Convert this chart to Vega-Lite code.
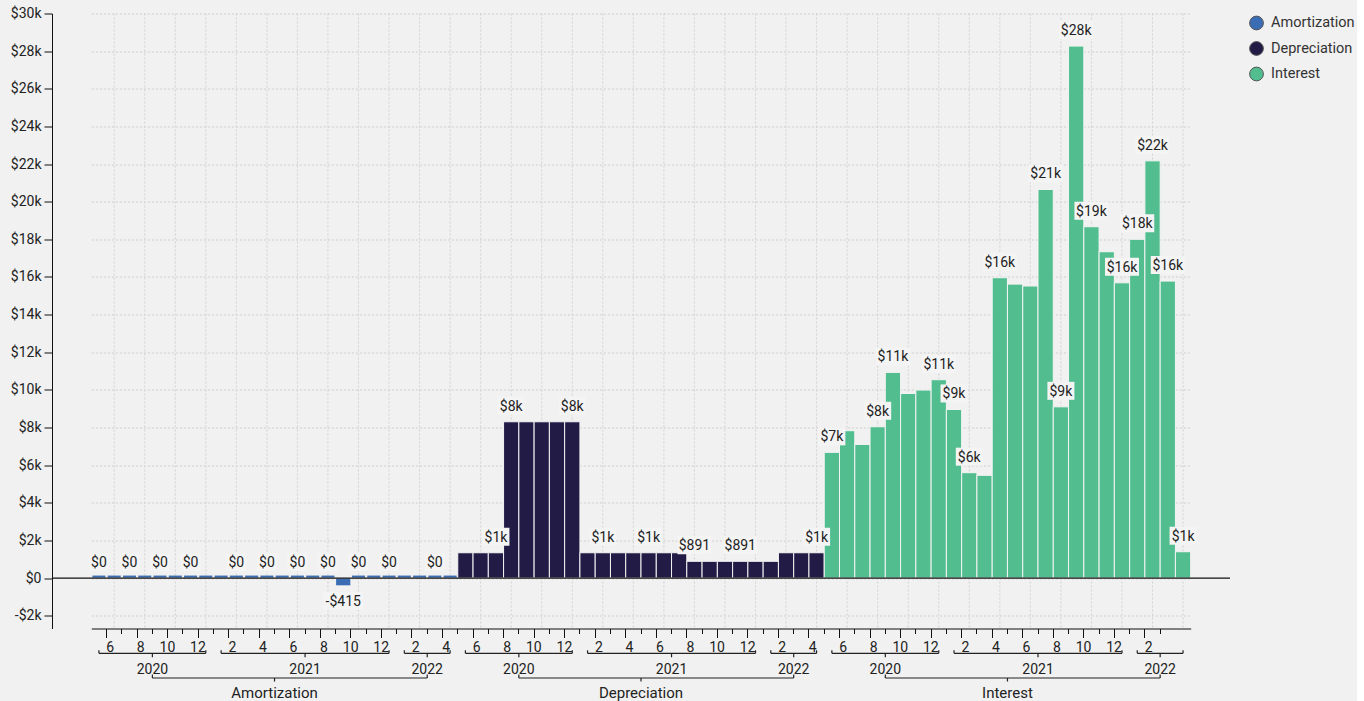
{
  "$schema": "https://vega.github.io/schema/vega-lite/v6.json",
  "background": "#f1f1f1",
  "padding": {"left": 10, "top": 6.5, "right": 0, "bottom": 0},
  "bounds": "flush",
  "spacing": 34.75,
  "config": {
    "font": "Roboto",
    "view": {"stroke": null},
    "axis": {"labelColor": "#222", "labelFontSize": 14, "domainColor": "#111", "tickColor": "#111"}
  },
  "datasets": {
    "costs": [
      {"group": "Amortization", "month": "2020-05", "amount": 0},
      {"group": "Amortization", "month": "2020-06", "amount": 0},
      {"group": "Amortization", "month": "2020-07", "amount": 0},
      {"group": "Amortization", "month": "2020-08", "amount": 0},
      {"group": "Amortization", "month": "2020-09", "amount": 0},
      {"group": "Amortization", "month": "2020-10", "amount": 0},
      {"group": "Amortization", "month": "2020-11", "amount": 0},
      {"group": "Amortization", "month": "2020-12", "amount": 0},
      {"group": "Amortization", "month": "2021-01", "amount": 0},
      {"group": "Amortization", "month": "2021-02", "amount": 0},
      {"group": "Amortization", "month": "2021-03", "amount": 0},
      {"group": "Amortization", "month": "2021-04", "amount": 0},
      {"group": "Amortization", "month": "2021-05", "amount": 0},
      {"group": "Amortization", "month": "2021-06", "amount": 0},
      {"group": "Amortization", "month": "2021-07", "amount": 0},
      {"group": "Amortization", "month": "2021-08", "amount": 0},
      {"group": "Amortization", "month": "2021-09", "amount": -415},
      {"group": "Amortization", "month": "2021-10", "amount": 0},
      {"group": "Amortization", "month": "2021-11", "amount": 0},
      {"group": "Amortization", "month": "2021-12", "amount": 0},
      {"group": "Amortization", "month": "2022-01", "amount": 0},
      {"group": "Amortization", "month": "2022-02", "amount": 0},
      {"group": "Amortization", "month": "2022-03", "amount": 0},
      {"group": "Amortization", "month": "2022-04", "amount": 0},
      {"group": "Depreciation", "month": "2020-05", "amount": 1345},
      {"group": "Depreciation", "month": "2020-06", "amount": 1345},
      {"group": "Depreciation", "month": "2020-07", "amount": 1345},
      {"group": "Depreciation", "month": "2020-08", "amount": 8305},
      {"group": "Depreciation", "month": "2020-09", "amount": 8305},
      {"group": "Depreciation", "month": "2020-10", "amount": 8305},
      {"group": "Depreciation", "month": "2020-11", "amount": 8305},
      {"group": "Depreciation", "month": "2020-12", "amount": 8305},
      {"group": "Depreciation", "month": "2021-01", "amount": 1345},
      {"group": "Depreciation", "month": "2021-02", "amount": 1345},
      {"group": "Depreciation", "month": "2021-03", "amount": 1345},
      {"group": "Depreciation", "month": "2021-04", "amount": 1345},
      {"group": "Depreciation", "month": "2021-05", "amount": 1345},
      {"group": "Depreciation", "month": "2021-06", "amount": 1345},
      {"group": "Depreciation", "month": "2021-07", "amount": 1345},
      {"group": "Depreciation", "month": "2021-08", "amount": 891},
      {"group": "Depreciation", "month": "2021-09", "amount": 891},
      {"group": "Depreciation", "month": "2021-10", "amount": 891},
      {"group": "Depreciation", "month": "2021-11", "amount": 891},
      {"group": "Depreciation", "month": "2021-12", "amount": 891},
      {"group": "Depreciation", "month": "2022-01", "amount": 891},
      {"group": "Depreciation", "month": "2022-02", "amount": 1345},
      {"group": "Depreciation", "month": "2022-03", "amount": 1345},
      {"group": "Depreciation", "month": "2022-04", "amount": 1345},
      {"group": "Interest", "month": "2020-05", "amount": 6680},
      {"group": "Interest", "month": "2020-06", "amount": 7830},
      {"group": "Interest", "month": "2020-07", "amount": 7100},
      {"group": "Interest", "month": "2020-08", "amount": 8040},
      {"group": "Interest", "month": "2020-09", "amount": 10930},
      {"group": "Interest", "month": "2020-10", "amount": 9810},
      {"group": "Interest", "month": "2020-11", "amount": 9990},
      {"group": "Interest", "month": "2020-12", "amount": 10540},
      {"group": "Interest", "month": "2021-01", "amount": 8960},
      {"group": "Interest", "month": "2021-02", "amount": 5600},
      {"group": "Interest", "month": "2021-03", "amount": 5460},
      {"group": "Interest", "month": "2021-04", "amount": 15960},
      {"group": "Interest", "month": "2021-05", "amount": 15620},
      {"group": "Interest", "month": "2021-06", "amount": 15520},
      {"group": "Interest", "month": "2021-07", "amount": 20650},
      {"group": "Interest", "month": "2021-08", "amount": 9100},
      {"group": "Interest", "month": "2021-09", "amount": 28270},
      {"group": "Interest", "month": "2021-10", "amount": 18670},
      {"group": "Interest", "month": "2021-11", "amount": 17340},
      {"group": "Interest", "month": "2021-12", "amount": 15690},
      {"group": "Interest", "month": "2022-01", "amount": 18000},
      {"group": "Interest", "month": "2022-02", "amount": 22170},
      {"group": "Interest", "month": "2022-03", "amount": 15780},
      {"group": "Interest", "month": "2022-04", "amount": 1400}
    ]
  },
  "data": {"name": "costs"},
  "resolve": {"scale": {"x": "shared"}},
  "vconcat": [
    {
      "width": 1178,
      "height": 615,
      "transform": [
        {"calculate": "datum.group + '|' + datum.month", "as": "key"},
        {"calculate": "toNumber(slice(datum.month, 5))", "as": "m"}
      ],
      "layer": [
        {
          "transform": [{"filter": "datum.m % 2 == 0"}],
          "mark": {"type": "rule", "color": "#d2d2d2", "strokeDash": [2, 2], "strokeWidth": 1},
          "encoding": {"x": {"field": "key", "type": "ordinal"}}
        },
        {
          "mark": {"type": "bar", "stroke": "#f4f4f4", "strokeWidth": 1},
          "encoding": {
            "x": {
              "field": "key",
              "type": "ordinal",
              "scale": {"paddingInner": 0, "paddingOuter": 0, "range": [39.3, 1138.7]},
              "axis": {
                "title": null,
                "labelAngle": 0,
                "labelOverlap": false,
                "grid": false,
                "bandPosition": 1,
                "tickExtra": false,
                "labelExpr": "(toNumber(slice(datum.value, -2)) % 2 == 0 && datum.value != 'Interest|2022-04') ? '' + toNumber(slice(datum.value, -2)) : ''",
                "tickSize": {"condition": {"test": "toNumber(slice(datum.value, -2)) % 2 == 1", "value": 9}, "value": 5},
                "tickOpacity": {"condition": {"test": "datum.value == 'Interest|2022-03' || datum.value == 'Interest|2022-04'", "value": 0}, "value": 1},
                "labelPadding": 14,
                "labelFontSize": 14
              }
            },
            "y": {
              "field": "amount",
              "type": "quantitative",
              "scale": {"domain": [-2680, 30000], "nice": false, "zero": false},
              "axis": {
                "title": null,
                "values": [-2000, 0, 2000, 4000, 6000, 8000, 10000, 12000, 14000, 16000, 18000, 20000, 22000, 24000, 26000, 28000, 30000],
                "tickCount": 40,
                "labelExpr": "datum.value == 0 ? '$0' : (datum.value < 0 ? '-$' : '$') + format(abs(datum.value) / 1000, 'd') + 'k'",
                "labelOverlap": false,
                "grid": true,
                "gridColor": "#cdcdcd",
                "gridDash": [2, 2],
                "tickSize": 8,
                "labelPadding": 3,
                "labelFontSize": 14
              }
            },
            "color": {
              "field": "group",
              "type": "nominal",
              "scale": {"domain": ["Amortization", "Depreciation", "Interest"], "range": ["#3b6db5", "#211b46", "#52be8f"]},
              "legend": {
                "title": null,
                "orient": "right",
                "offset": 16,
                "padding": 2,
                "symbolType": "circle",
                "symbolSize": 190,
                "symbolOpacity": 1,
                "symbolStrokeColor": "#555",
                "symbolStrokeWidth": 1,
                "labelFontSize": 14.5,
                "labelColor": "#333",
                "labelOffset": 7,
                "rowPadding": 6.5
              }
            }
          }
        },
        {
          "transform": [{"filter": "datum.amount == 0"}],
          "mark": {"type": "tick", "thickness": 2, "size": 13, "yOffset": -1.5, "opacity": 1},
          "encoding": {
            "x": {"field": "key", "type": "ordinal"},
            "y": {"field": "amount", "type": "quantitative"},
            "color": {"field": "group", "type": "nominal"}
          }
        },
        {
          "data": {"values": [{}]},
          "mark": {"type": "rule", "color": "#111", "strokeWidth": 1.2},
          "encoding": {"y": {"datum": 0, "type": "quantitative"}}
        },
        {
          "transform": [
            {"filter": {"field": "key", "oneOf": [
              "Amortization|2020-05", "Amortization|2020-07", "Amortization|2020-09", "Amortization|2020-11",
              "Amortization|2021-02", "Amortization|2021-04", "Amortization|2021-06", "Amortization|2021-08",
              "Amortization|2021-09", "Amortization|2021-10", "Amortization|2021-12", "Amortization|2022-03",
              "Depreciation|2020-07", "Depreciation|2020-08", "Depreciation|2020-12", "Depreciation|2021-02",
              "Depreciation|2021-05", "Depreciation|2021-08", "Depreciation|2021-11", "Depreciation|2022-04",
              "Interest|2020-05", "Interest|2020-08", "Interest|2020-09", "Interest|2020-12",
              "Interest|2021-01", "Interest|2021-02", "Interest|2021-04", "Interest|2021-07",
              "Interest|2021-08", "Interest|2021-09", "Interest|2021-10", "Interest|2021-12",
              "Interest|2022-01", "Interest|2022-02", "Interest|2022-03", "Interest|2022-04"
            ]}},
            {"calculate": "(datum.amount < 0 ? '-$' : '$') + (abs(datum.amount) >= 1000 ? format(abs(datum.amount) / 1000, '.0f') + 'k' : format(abs(datum.amount), '.0f'))", "as": "tag"},
            {"calculate": "length(datum.tag)", "as": "chars"}
          ],
          "layer": [
            {
              "transform": [{"filter": "datum.amount >= 0"}],
              "mark": {"type": "point", "filled": true, "fill": "#f4f4f4", "opacity": 1, "size": 100, "strokeWidth": 0, "yOffset": -16},
              "encoding": {
                "x": {"field": "key", "type": "ordinal"},
                "y": {"field": "amount", "type": "quantitative"},
                "shape": {
                  "field": "chars",
                  "type": "ordinal",
                  "scale": {"domain": [2, 3, 4, 5], "range": ["M-2,-1.8H2V1.8H-2Z", "M-2.7,-1.8H2.7V1.8H-2.7Z", "M-3.4,-1.8H3.4V1.8H-3.4Z", "M-4,-1.8H4V1.8H-4Z"]},
                  "legend": null
                }
              }
            },
            {
              "transform": [{"filter": "datum.amount < 0"}],
              "mark": {"type": "point", "filled": true, "fill": "#f4f4f4", "opacity": 1, "size": 100, "strokeWidth": 0, "yOffset": 15},
              "encoding": {
                "x": {"field": "key", "type": "ordinal"},
                "y": {"field": "amount", "type": "quantitative"},
                "shape": {"field": "chars", "type": "ordinal", "legend": null}
              }
            },
            {
              "transform": [{"filter": "datum.amount >= 0"}],
              "mark": {"type": "text", "fontSize": 14, "color": "#222", "baseline": "middle", "yOffset": -15},
              "encoding": {
                "x": {"field": "key", "type": "ordinal"},
                "y": {"field": "amount", "type": "quantitative"},
                "text": {"field": "tag"}
              }
            },
            {
              "transform": [{"filter": "datum.amount < 0"}],
              "mark": {"type": "text", "fontSize": 14, "color": "#222", "baseline": "middle", "yOffset": 16},
              "encoding": {
                "x": {"field": "key", "type": "ordinal"},
                "y": {"field": "amount", "type": "quantitative"},
                "text": {"field": "tag"}
              }
            }
          ]
        }
      ]
    },
    {
      "width": 1178,
      "height": 34.5,
      "transform": [
        {"calculate": "toNumber(slice(datum.month, 0, 4))", "as": "yr"},
        {"calculate": "toNumber(slice(datum.month, 5))", "as": "m"},
        {"aggregate": [{"op": "min", "field": "m", "as": "m0"}, {"op": "max", "field": "m", "as": "m1"}], "groupby": ["group", "yr"]},
        {"calculate": "datum.m1 - datum.m0 + 1", "as": "span"},
        {"calculate": "datum.group + '|' + timeFormat(datetime(datum.yr, datum.m0 - 1, 1), '%Y-%m')", "as": "k0"},
        {"calculate": "datum.group + '|' + timeFormat(datetime(datum.yr, datum.m1 - 1, 1), '%Y-%m')", "as": "k1"},
        {"calculate": "datum.group + '|' + timeFormat(datetime(datum.yr, datum.m0 - 1 + datum.span / 2, 1), '%Y-%m')", "as": "kMid"}
      ],
      "layer": [
        {
          "mark": {"type": "rule", "color": "#222", "strokeWidth": 1.2, "yOffset": -15.7},
          "encoding": {
            "x": {"field": "k0", "type": "ordinal", "axis": null},
            "x2": {"field": "k1"},
            "y": {"datum": "year", "type": "nominal", "scale": {"type": "point", "domain": ["year", "group"], "padding": 0.25}, "axis": null}
          }
        },
        {
          "transform": [{"fold": ["k0", "k1"], "as": ["side", "kEnd"]}],
          "mark": {"type": "rule", "color": "#222", "strokeWidth": 1.2, "yOffset": -15.7, "y2Offset": -18.7},
          "encoding": {
            "x": {"field": "kEnd", "type": "ordinal", "axis": null},
            "y": {"datum": "year", "type": "nominal"},
            "y2": {"datum": "year"}
          }
        },
        {
          "mark": {"type": "rule", "color": "#222", "strokeWidth": 1.2, "yOffset": -15.7, "y2Offset": -11.7},
          "encoding": {
            "x": {"field": "kMid", "type": "ordinal", "bandPosition": 0, "axis": null},
            "y": {"datum": "year", "type": "nominal"},
            "y2": {"datum": "year"}
          }
        },
        {
          "mark": {"type": "text", "fontSize": 14, "color": "#222", "baseline": "middle", "yOffset": 1},
          "encoding": {
            "x": {"field": "kMid", "type": "ordinal", "bandPosition": 0, "axis": null},
            "y": {"datum": "year", "type": "nominal"},
            "text": {"field": "yr"}
          }
        },
        {
          "transform": [
            {"aggregate": [{"op": "argmin", "field": "yr", "as": "lo"}, {"op": "argmax", "field": "yr", "as": "hi"}, {"op": "sum", "field": "span", "as": "n"}], "groupby": ["group"]},
            {"calculate": "datum.lo.kMid", "as": "g0"},
            {"calculate": "datum.hi.kMid", "as": "g1"},
            {"calculate": "datum.group + '|' + timeFormat(datetime(datum.lo.yr, datum.lo.m0 - 1 + datum.n / 2, 1), '%Y-%m')", "as": "gMid"}
          ],
          "layer": [
            {
              "mark": {"type": "rule", "color": "#222", "strokeWidth": 1.2, "yOffset": -14},
              "encoding": {
                "x": {"field": "g0", "type": "ordinal", "bandPosition": 0, "axis": null},
                "x2": {"field": "g1", "bandPosition": 0},
                "y": {"datum": "group", "type": "nominal"}
              }
            },
            {
              "transform": [{"fold": ["g0", "g1"], "as": ["side", "gEnd"]}],
              "mark": {"type": "rule", "color": "#222", "strokeWidth": 1.2, "yOffset": -14, "y2Offset": -17.5},
              "encoding": {
                "x": {"field": "gEnd", "type": "ordinal", "bandPosition": 0, "axis": null},
                "y": {"datum": "group", "type": "nominal"},
                "y2": {"datum": "group"}
              }
            },
            {
              "mark": {"type": "rule", "color": "#222", "strokeWidth": 1.2, "yOffset": -14, "y2Offset": -10.5},
              "encoding": {
                "x": {"field": "gMid", "type": "ordinal", "bandPosition": 0, "axis": null},
                "y": {"datum": "group", "type": "nominal"},
                "y2": {"datum": "group"}
              }
            },
            {
              "mark": {"type": "text", "fontSize": 15, "color": "#222", "baseline": "middle", "yOffset": 1},
              "encoding": {
                "x": {"field": "gMid", "type": "ordinal", "bandPosition": 0, "axis": null},
                "y": {"datum": "group", "type": "nominal"},
                "text": {"field": "group"}
              }
            }
          ]
        }
      ]
    }
  ]
}
